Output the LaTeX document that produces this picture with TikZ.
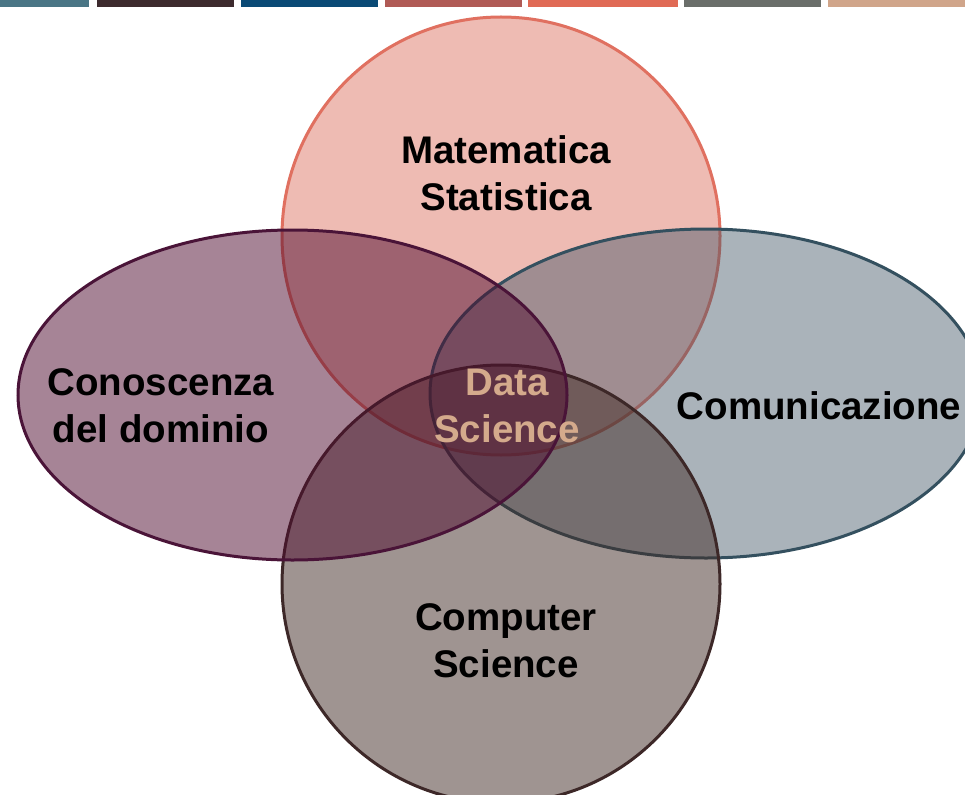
\documentclass[tikz,border=0pt]{standalone}
\usepackage{fontspec}
\setmainfont{Liberation Sans}
\begin{document}
\begin{tikzpicture}[x=1pt,y=-1pt,
  venn/.style={line width=3pt},
  lbl/.style={font=\bfseries\fontsize{38.5}{47}\selectfont, align=center, text=black}]
\definecolor{topF}{HTML}{DF7969}\definecolor{topD}{HTML}{E07060}
\definecolor{leftF}{HTML}{4F0B2F}\definecolor{leftD}{HTML}{4A1438}
\definecolor{rightF}{HTML}{435768}\definecolor{rightD}{HTML}{34505F}
\definecolor{botF}{HTML}{412B25}\definecolor{botD}{HTML}{3D2828}
\definecolor{dsText}{HTML}{D4AA8C}
\definecolor{b1}{HTML}{4A7585}\definecolor{b2}{HTML}{3D2A2E}\definecolor{b3}{HTML}{0A4A75}
\definecolor{b4}{HTML}{B05A55}\definecolor{b5}{HTML}{E06A55}\definecolor{b6}{HTML}{6A6E6A}
\definecolor{b7}{HTML}{D0A58A}
\useasboundingbox (0,0) rectangle (965,794);
\clip (0,0) rectangle (965,794);
\fill[white] (0,0) rectangle (965,794);
% top color bars
\fill[b1] (0,0) rectangle (89,7);
\fill[b2] (97,0) rectangle (234,7);
\fill[b3] (241,0) rectangle (378,7);
\fill[b4] (385,0) rectangle (522,7);
\fill[b5] (528,0) rectangle (678,7);
\fill[b6] (684,0) rectangle (821,7);
\fill[b7] (828,0) rectangle (965,7);
% sets (order: top, right, bottom, left)
\fill[topF, fill opacity=0.5] (501,236) circle [radius=219];
\draw[venn, draw=topD] (501,236) circle [radius=219];
\fill[rightF, fill opacity=0.45] (706,393.5) ellipse [x radius=276, y radius=164.5];
\draw[venn, draw=rightD] (706,393.5) ellipse [x radius=276, y radius=164.5];
\fill[botF, fill opacity=0.5] (501,584) circle [radius=219];
\draw[venn, draw=botD] (501,584) circle [radius=219];
\fill[leftF, fill opacity=0.5] (292.5,395) ellipse [x radius=274.5, y radius=165];
\draw[venn, draw=leftD] (292.5,395) ellipse [x radius=274.5, y radius=165];
% labels
\node[lbl] (mat) at (506,173) {Matematica\\Statistica};
\node[lbl] (con) at (161,406) {Conoscenza\\del dominio};
\node[lbl] (com) at (819,406) {Comunicazione};
\node[lbl] (cs) at (506,641) {Computer\\Science};
\node[lbl, text=dsText] (ds) at (507,406) {Data\\Science};
\end{tikzpicture}
\end{document}
